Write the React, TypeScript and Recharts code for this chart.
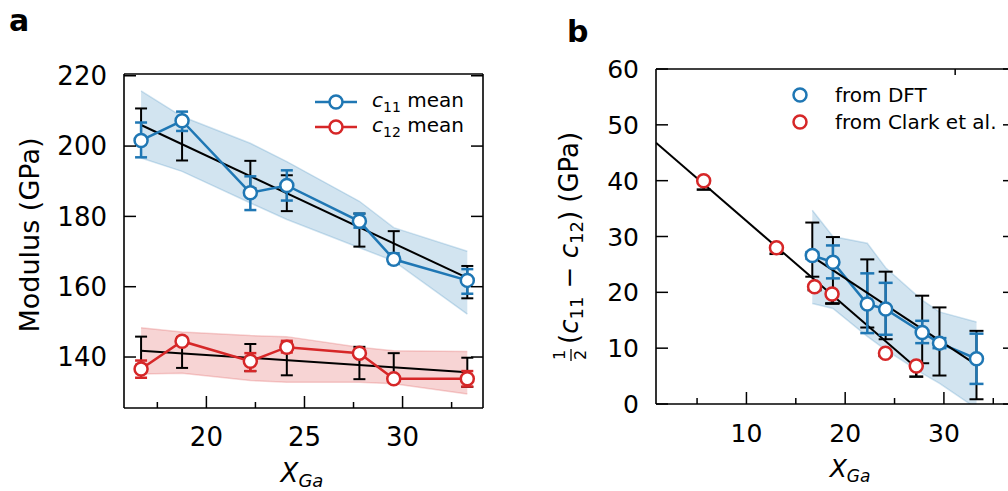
import React from "react";
import { Area, ComposedChart, ErrorBar, Legend, Line, XAxis, YAxis } from "recharts";

const FONT = "'DejaVu Sans', Verdana, sans-serif";
const BLUE = "#1f77b4";
const RED = "#d62728";
const INK = "#000";

// ---------- panel a: moduli against Ga content ----------
const xGa = [16.67, 18.76, 22.24, 24.1, 27.8, 29.55, 33.3];

const c11Mean = [201.6, 207.2, 186.7, 188.8, 178.6, 167.8, 161.8];
const c11Low = [196.8, 204.3, 181.8, 184.5, 176.8, 166.5, 158.0];
const c11High = [206.7, 209.8, 191.4, 193.1, 180.8, 169.5, 165.0];
const c11BandLow = [196.6, 192.8, 183.8, 179.1, 171.1, 167.3, 152.2];
const c11BandHigh = [215.7, 208.4, 200.8, 195.6, 184.3, 176.8, 170.1];
const c11FitLow = [200.5, 195.9, 188.0, 181.5, 171.4, 167.5, 156.7];
const c11FitHigh = [210.7, 207.5, 195.8, 191.7, 180.8, 175.8, 165.9];
const c11FitX = [16.67, 33.3];
const c11FitY = [206.0, 162.5];

const c12Mean = [136.6, 144.5, 138.8, 142.8, 141.1, 133.8, 133.8];
const c12Low = [134.1, 143.6, 136.0, 141.3, 140.1, 133.0, 131.6];
const c12High = [139.0, 145.4, 141.1, 144.6, 142.1, 134.6, 136.0];
const c12BandLow = [135.2, 135.4, 133.3, 132.8, 132.8, 132.4, 129.5];
const c12BandHigh = [148.3, 147.1, 146.1, 145.8, 142.8, 141.8, 141.6];
const c12FitLow = [137.8, 136.9, 136.0, 134.8, 133.7, 133.5, 131.5];
const c12FitHigh = [145.8, 145.7, 143.7, 144.2, 142.9, 141.1, 139.8];
const c12FitX = [16.67, 33.3];
const c12FitY = [141.8, 135.7];

const aXTicks = [17.5, 20, 22.5, 25, 27.5, 30, 32.5];
const aXLabels = [20, 25, 30];
const aYTicks = [140, 160, 180, 200, 220];

// ---------- panel b: shear modulus (c11 - c12)/2 ----------
const dftMean = [26.6, 25.4, 17.9, 17.0, 12.8, 10.9, 8.1];
const dftLow = [26.0, 22.5, 12.7, 12.4, 10.9, 10.0, 3.6];
const dftHigh = [27.2, 28.4, 23.4, 21.7, 14.9, 11.8, 12.6];
const dftBandLow = [18.0, 17.1, 12.1, 9.7, 5.5, 3.7, -0.8];
const dftBandHigh = [34.7, 30.0, 28.8, 24.4, 18.6, 16.5, 14.7];
const dftFitLow = [22.8, 18.0, 13.7, 11.6, 7.3, 5.1, 0.85];
const dftFitHigh = [32.5, 29.9, 25.9, 23.7, 19.4, 17.3, 13.1];
const dftFitX = [16.67, 33.3];
const dftFitY = [26.4, 7.0];

const clarkX = [5.67, 13.04, 16.9, 18.67, 24.08, 27.2];
const clarkY = [40.0, 28.0, 21.0, 19.7, 9.1, 6.8];
const clarkLow = [38.4, 26.9, 20.4, 18.0, 8.6, 4.9];
const clarkHigh = [40.0, 28.0, 21.0, 19.7, 9.1, 6.8];
const clarkFitX = [0.84, 27.2];
const clarkFitY = [46.8, 6.5];

const bXTicks = [5, 10, 15, 20, 25, 30, 35];
const bXLabels = [10, 20, 30];
const bYTicks = [0, 10, 20, 30, 40, 50, 60];

const tableA = xGa.map((x, i) => ({
	x,
	c11: c11Mean[i],
	c11Err: [c11Mean[i] - c11Low[i], c11High[i] - c11Mean[i]],
	c11Band: [c11BandLow[i], c11BandHigh[i]],
	c11FitLow: c11FitLow[i],
	c11FitSpan: [0, c11FitHigh[i] - c11FitLow[i]],
	c12: c12Mean[i],
	c12Err: [c12Mean[i] - c12Low[i], c12High[i] - c12Mean[i]],
	c12Band: [c12BandLow[i], c12BandHigh[i]],
	c12FitLow: c12FitLow[i],
	c12FitSpan: [0, c12FitHigh[i] - c12FitLow[i]],
}));

const tableB = xGa.map((x, i) => ({
	x,
	dft: dftMean[i],
	dftErr: [dftMean[i] - dftLow[i], dftHigh[i] - dftMean[i]],
	dftBand: [dftBandLow[i], dftBandHigh[i]],
	fitLow: dftFitLow[i],
	fitSpan: [0, dftFitHigh[i] - dftFitLow[i]],
}));

const clarkRows = clarkX.map((x, i) => ({
	x,
	y: clarkY[i],
	err: [clarkY[i] - clarkLow[i], clarkHigh[i] - clarkY[i]],
}));

const pairs = (xs: number[], ys: number[]) => xs.map((x, i) => ({ x, y: ys[i] }));

const MAJOR = 12;
const MINOR = 6;
const CAP = 6;
const MARK = { r: 6.5, fill: "#fff", strokeWidth: 2.5 };

const bottomTick = (labels: number[], size: number, dy: number) => (p: any) => {
	const v = p.payload.value;
	const major = labels.includes(v);
	return (
		<g>
			<line x1={p.x} x2={p.x} y1={p.y} y2={p.y - (major ? MAJOR : MINOR)} stroke={INK} strokeWidth={1.5} />
			{major && (
				<text x={p.x} y={p.y + dy} textAnchor="middle" fontSize={size} fontFamily={FONT} fill={INK}>
					{v}
				</text>
			)}
		</g>
	);
};

const topTick = (labels: number[]) => (p: any) => {
	const major = labels.includes(p.payload.value);
	return <line x1={p.x} x2={p.x} y1={p.y} y2={p.y + (major ? MAJOR : MINOR)} stroke={INK} strokeWidth={1.5} />;
};

const leftTick = (size: number) => (p: any) => (
	<g>
		<line x1={p.x} x2={p.x + MAJOR} y1={p.y} y2={p.y} stroke={INK} strokeWidth={1.5} />
		<text x={p.x - 17} y={p.y + size * 0.36} textAnchor="end" fontSize={size} fontFamily={FONT} fill={INK}>
			{p.payload.value}
		</text>
	</g>
);

const rightTick = (p: any) => (
	<line x1={p.x} x2={p.x - MAJOR} y1={p.y} y2={p.y} stroke={INK} strokeWidth={1.5} />
);

const axisLine = { stroke: INK, strokeWidth: 1.6 };

function LegendA() {
	const rows = [
		{ color: BLUE, sub: "11" },
		{ color: RED, sub: "12" },
	];
	return (
		<div style={{ fontFamily: FONT, fontSize: 20, color: INK }}>
			{rows.map((r) => (
				<div key={r.sub} style={{ display: "flex", alignItems: "center", height: 25 }}>
					<svg width={42} height={18}>
						<line x1={0} x2={42} y1={9} y2={9} stroke={r.color} strokeWidth={2.5} />
						<circle cx={21} cy={9} r={6.5} fill="#fff" stroke={r.color} strokeWidth={2.5} />
					</svg>
					<span style={{ marginLeft: 15, whiteSpace: "nowrap" }}>
						<i>c</i>
						<sub style={{ fontSize: 14 }}>{r.sub}</sub> mean
					</span>
				</div>
			))}
		</div>
	);
}

function LegendB() {
	const rows = [
		{ color: BLUE, text: "from DFT" },
		{ color: RED, text: "from Clark et al." },
	];
	return (
		<div style={{ fontFamily: FONT, fontSize: 20, color: INK }}>
			{rows.map((r) => (
				<div key={r.text} style={{ display: "flex", alignItems: "center", height: 26.7 }}>
					<svg width={20} height={18}>
						<circle cx={10} cy={9} r={6.5} fill="#fff" stroke={r.color} strokeWidth={2.5} />
					</svg>
					<span style={{ marginLeft: 25, whiteSpace: "nowrap" }}>{r.text}</span>
				</div>
			))}
		</div>
	);
}

function PanelA() {
	return (
		<ComposedChart
			width={500}
			height={491}
			data={tableA}
			margin={{ top: 73, right: 0, bottom: 0, left: 0 }}
		>
			<XAxis dataKey="x" type="number" domain={[15.8, 34.1]} allowDataOverflow ticks={aXTicks} interval={0}
				height={83} tickSize={0} tickMargin={0} tickLine={false} axisLine={axisLine}
				tick={bottomTick(aXLabels, 26, 38)} />
			<XAxis xAxisId="t" orientation="top" type="number" domain={[15.8, 34.1]} allowDataOverflow ticks={aXTicks}
				interval={0} height={1} tickSize={0} tickMargin={0} tickLine={false} axisLine={axisLine}
				tick={topTick(aXLabels)} />
			<YAxis type="number" domain={[125.5, 220.5]} allowDataOverflow ticks={aYTicks} interval={0} width={124}
				tickSize={0} tickMargin={0} tickLine={false} axisLine={axisLine} tick={leftTick(26)} />
			<YAxis yAxisId="r" orientation="right" type="number" domain={[125.5, 220.5]} allowDataOverflow ticks={aYTicks}
				interval={0} width={17} tickSize={0} tickMargin={0} tickLine={false} axisLine={axisLine} tick={rightTick} />

			<Area dataKey="c11Band" type="linear" fill={BLUE} fillOpacity={0.2} stroke={BLUE} strokeOpacity={0.2}
				strokeWidth={1.5} dot={false} activeDot={false} legendType="none" isAnimationActive={false} />
			<Area dataKey="c12Band" type="linear" fill={RED} fillOpacity={0.2} stroke={RED} strokeOpacity={0.2}
				strokeWidth={1.5} dot={false} activeDot={false} legendType="none" isAnimationActive={false} />

			<Line data={pairs(c11FitX, c11FitY)} dataKey="y" type="linear" stroke={INK} strokeWidth={2} dot={false}
				activeDot={false} legendType="none" isAnimationActive={false} />
			<Line data={pairs(c12FitX, c12FitY)} dataKey="y" type="linear" stroke={INK} strokeWidth={2} dot={false}
				activeDot={false} legendType="none" isAnimationActive={false} />

			<Line dataKey="c11FitLow" stroke="none" dot={false} activeDot={false} legendType="none" isAnimationActive={false}>
				<ErrorBar dataKey="c11FitSpan" direction="y" width={CAP} stroke={INK} strokeWidth={2} isAnimationActive={false} />
			</Line>
			<Line dataKey="c12FitLow" stroke="none" dot={false} activeDot={false} legendType="none" isAnimationActive={false}>
				<ErrorBar dataKey="c12FitSpan" direction="y" width={CAP} stroke={INK} strokeWidth={2} isAnimationActive={false} />
			</Line>

			<Line dataKey="c11" type="linear" stroke={BLUE} strokeWidth={2.5} activeDot={false} isAnimationActive={false}
				dot={{ ...MARK, stroke: BLUE }}>
				<ErrorBar dataKey="c11Err" direction="y" width={CAP} stroke={BLUE} strokeWidth={2.5} isAnimationActive={false} />
			</Line>
			<Line dataKey="c12" type="linear" stroke={RED} strokeWidth={2.5} activeDot={false} isAnimationActive={false}
				dot={{ ...MARK, stroke: RED }}>
				<ErrorBar dataKey="c12Err" direction="y" width={CAP} stroke={RED} strokeWidth={2.5} isAnimationActive={false} />
			</Line>

			<Legend layout="horizontal" verticalAlign="middle" align="center" content={() => <LegendA />}
				wrapperStyle={{ left: 315, top: 89, width: 170, height: 50 }} />
		</ComposedChart>
	);
}

function PanelB() {
	return (
		<ComposedChart
			width={485}
			height={491}
			data={tableB}
			margin={{ top: 68, right: 0, bottom: 0, left: 0 }}
		>
			<XAxis dataKey="x" type="number" domain={[0.84, 37.2]} allowDataOverflow ticks={bXTicks} interval={0}
				height={87} tickSize={0} tickMargin={0} tickLine={false} axisLine={axisLine}
				tick={bottomTick(bXLabels, 25, 38)} />
			<XAxis xAxisId="t" orientation="top" type="number" domain={[0.84, 37.2]} allowDataOverflow ticks={bXTicks}
				interval={0} height={1} tickSize={0} tickMargin={0} tickLine={false} axisLine={axisLine}
				tick={topTick(bXLabels)} />
			<YAxis type="number" domain={[0, 60]} allowDataOverflow ticks={bYTicks} interval={0} width={116}
				tickSize={0} tickMargin={0} tickLine={false} axisLine={axisLine} tick={leftTick(25)} />
			<YAxis yAxisId="r" orientation="right" type="number" domain={[0, 60]} allowDataOverflow ticks={bYTicks}
				interval={0} width={10} tickSize={0} tickMargin={0} tickLine={false} axisLine={axisLine} tick={rightTick} />

			<Area dataKey="dftBand" type="linear" fill={BLUE} fillOpacity={0.2} stroke={BLUE} strokeOpacity={0.2}
				strokeWidth={1.5} dot={false} activeDot={false} legendType="none" isAnimationActive={false} />

			<Line data={pairs(clarkFitX, clarkFitY)} dataKey="y" type="linear" stroke={INK} strokeWidth={2} dot={false}
				activeDot={false} legendType="none" isAnimationActive={false} />

			<Line dataKey="fitLow" stroke="none" dot={false} activeDot={false} legendType="none" isAnimationActive={false}>
				<ErrorBar dataKey="fitSpan" direction="y" width={7} stroke={INK} strokeWidth={2} isAnimationActive={false} />
			</Line>

			<Line data={clarkRows} dataKey="y" stroke="none" activeDot={false} isAnimationActive={false}
				dot={{ ...MARK, stroke: RED }}>
				<ErrorBar dataKey="err" direction="y" width={7} stroke={INK} strokeWidth={2.5} isAnimationActive={false} />
			</Line>

			<Line dataKey="dft" type="linear" stroke={BLUE} strokeWidth={2.5} activeDot={false} isAnimationActive={false}
				dot={{ ...MARK, stroke: BLUE }}>
				<ErrorBar dataKey="dftErr" direction="y" width={7} stroke={BLUE} strokeWidth={2.5} isAnimationActive={false} />
			</Line>

			<Line data={pairs(dftFitX, dftFitY)} dataKey="y" type="linear" stroke={INK} strokeWidth={2} dot={false}
				activeDot={false} legendType="none" isAnimationActive={false} />

			<Legend layout="horizontal" verticalAlign="middle" align="center" content={() => <LegendB />}
				wrapperStyle={{ left: 250, top: 82, width: 240, height: 54 }} />
		</ComposedChart>
	);
}

function Titles() {
	const t = { fontFamily: FONT, fill: INK } as const;
	return (
		<svg width={1008} height={491} style={{ position: "absolute", left: 0, top: 0, pointerEvents: "none" }}>
			<text x={9} y={31} fontSize={30} fontWeight="bold" {...t}>a</text>
			<text x={567} y={42} fontSize={30} fontWeight="bold" {...t}>b</text>

			<g transform="translate(39, 235) rotate(-90)">
				<text x={0} y={0} textAnchor="middle" fontSize={27} {...t}>Modulus (GPa)</text>
			</g>
			<text x={302} y={482} textAnchor="middle" fontSize={26} {...t}>
				<tspan fontStyle="italic">X</tspan>
				<tspan fontStyle="italic" fontSize={18} dy={5}>Ga</tspan>
			</text>

			<g transform="translate(578, 238) rotate(-90)">
				<text x={-117} y={-13} textAnchor="middle" fontSize={16} {...t}>1</text>
				<line x1={-123} x2={-111} y1={-7} y2={-7} stroke={INK} strokeWidth={1.3} />
				<text x={-117} y={8} textAnchor="middle" fontSize={16} {...t}>2</text>
				<text x={-106} y={0} fontSize={26} {...t}>
					(<tspan fontStyle="italic">c</tspan>
					<tspan fontSize={18} dy={5}>11</tspan>
					<tspan dy={-5}> − </tspan>
					<tspan fontStyle="italic">c</tspan>
					<tspan fontSize={18} dy={5}>12</tspan>
					<tspan dy={-5}>) (GPa)</tspan>
				</text>
			</g>
			<text x={850} y={477} textAnchor="middle" fontSize={25} {...t}>
				<tspan fontStyle="italic">X</tspan>
				<tspan fontStyle="italic" fontSize={17} dy={5}>Ga</tspan>
			</text>
		</svg>
	);
}

export default function App() {
	return (
		<div style={{ position: "absolute", left: 0, top: 0, width: 1008, height: 491, overflow: "hidden", background: "#fff" }}>
			<div style={{ position: "absolute", left: 0, top: 0 }}>
				<PanelA />
			</div>
			<div style={{ position: "absolute", left: 540, top: 0 }}>
				<PanelB />
			</div>
			<Titles />
		</div>
	);
}
